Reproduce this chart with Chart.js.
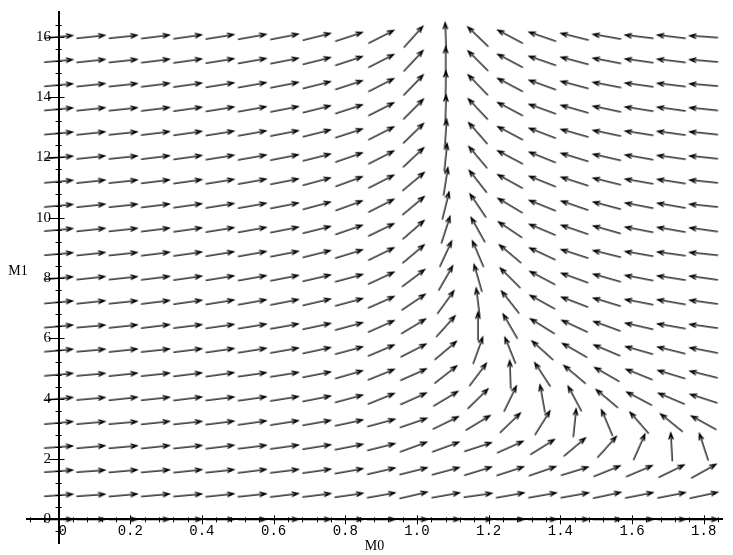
<!DOCTYPE html>
<html>
<head>
<meta charset="utf-8">
<title>M0 / M1 direction field</title>
<script src="https://cdn.jsdelivr.net/npm/chart.js@4.4.0/dist/chart.umd.min.js"></script>
<style>
	body { margin: 0; background: #fff; }
	#wrap { width: 733px; height: 555px; }
</style>
</head>
<body>
<div id="wrap"><canvas id="field"></canvas></div>
<script>

// grid points of the field
const m0Grid = [0, 0.09, 0.18, 0.27, 0.36, 0.45, 0.54, 0.63, 0.72, 0.81, 0.9, 0.99, 1.08, 1.17, 1.26, 1.35, 1.44, 1.53, 1.62, 1.71, 1.8];
const m1Grid = [0, 0.8, 1.6, 2.4, 3.2, 4, 4.8, 5.6, 6.4, 7.2, 8, 8.8, 9.6, 10.4, 11.2, 12, 12.8, 13.6, 14.4, 15.2, 16];

// arrow direction (degrees, counter-clockwise from +M0), one row per M1 value, bottom row first
const angles = [
	[0, 0, 0, 0, 0, 0, 0, 0, 0, 0, 0, 0, 0, 0, 0, 0, 0, 0, 0, 0, 0],
	[4, 4, 5, 5, 5, 6, 6, 7, 7, 8, 10, 13, 10, 8, 10, 10, 10, 12, 11, 11, 12],
	[4, 4, 5, 5, 6, 6, 7, 7, 8, 10, 13, 14, 15, 17, 18, 19, 17, 22, 23, 26, 29],
	[4, 5, 5, 6, 6, 7, 7, 8, 9, 11, 14, 20, 20, 18, 24, 32, 40, 48, 66, 93, 108],
	[5, 5, 5, 6, 6, 7, 8, 9, 10, 12, 15, 19, 26, 31, 44, 58, 84, 113, 131, 141, 151],
	[5, 5, 6, 6, 7, 7, 8, 9, 11, 15, 22, 24, 31, 44, 64, 100, 118, 140, 152, 157, 162],
	[5, 5, 6, 6, 7, 8, 8, 9, 11, 16, 22, 24, 38, 53, 92, 123, 140, 150, 158, 163, 166],
	[5, 5, 6, 6, 7, 8, 9, 10, 12, 15, 23, 27, 40, 70, 112, 138, 150, 157, 164, 166, 169],
	[5, 5, 6, 7, 7, 8, 9, 10, 12, 15, 24, 31, 48, 90, 120, 148, 155, 160, 167, 170, 172],
	[5, 6, 6, 7, 8, 9, 10, 11, 13, 15, 24, 34, 54, 97, 128, 151, 159, 163, 169, 170, 172],
	[5, 6, 6, 7, 8, 9, 10, 11, 13, 15, 25, 37, 60, 106, 135, 152, 160, 164, 169, 171, 172],
	[5, 6, 6, 7, 8, 9, 10, 11, 14, 17, 26, 40, 65, 113, 140, 155, 162, 166, 170, 172, 174],
	[5, 6, 6, 7, 8, 9, 10, 11, 14, 19, 26, 41, 72, 119, 146, 157, 161, 164, 169, 170, 172],
	[5, 6, 6, 7, 8, 9, 10, 11, 15, 20, 27, 40, 76, 124, 149, 158, 161, 165, 169, 170, 174],
	[5, 6, 6, 7, 8, 9, 10, 11, 15, 20, 27, 40, 81, 128, 151, 158, 162, 166, 170, 171, 174],
	[5, 6, 6, 7, 8, 9, 10, 11, 14, 19, 27, 43, 84, 130, 152, 158, 163, 167, 170, 172, 174],
	[5, 6, 6, 7, 8, 9, 10, 11, 14, 18, 27, 44, 86, 131, 152, 159, 164, 168, 171, 172, 174],
	[5, 6, 6, 7, 8, 9, 10, 11, 14, 18, 27, 45, 88, 133, 152, 160, 164, 168, 171, 172, 174],
	[5, 6, 6, 7, 8, 9, 10, 11, 14, 18, 27, 46, 89, 134, 152, 160, 165, 169, 172, 173, 175],
	[5, 6, 6, 7, 8, 9, 10, 11, 14, 18, 27, 47, 90, 135, 152, 161, 165, 169, 172, 173, 175],
	[5, 6, 6, 7, 8, 9, 10, 11, 14, 18, 27, 48, 92, 136, 152, 161, 166, 170, 173, 173, 176]
];

// axis labels
const xTicks = [0, 0.2, 0.4, 0.6, 0.8, 1, 1.2, 1.4, 1.6, 1.8];
const yTicks = [0, 2, 4, 6, 8, 10, 12, 14, 16];
const xTitle = "M0";
const yTitle = "M1";

// points for the chart
let arrows = [];
for (let r = 0; r < m1Grid.length; r++) {
	for (let c = 0; c < m0Grid.length; c++) {
		arrows.push({ x: m0Grid[c], y: m1Grid[r], a: angles[r][c] });
	}
}

// arrow picture, pointing right, used as point style
function makeArrow(len) {
	let cv = document.createElement('canvas');
	cv.width = len + 4;
	cv.height = 12;
	let g = cv.getContext('2d');
	g.strokeStyle = '#000';
	g.lineWidth = 1.25;
	g.lineCap = 'round';
	g.beginPath();
	g.moveTo(2, 6);
	g.lineTo(len + 2, 6);
	g.moveTo(len - 4, 3.8);
	g.lineTo(len + 2, 6);
	g.lineTo(len - 4, 8.2);
	g.stroke();
	return cv;
}
const arrowPic = makeArrow(28);

// ticks crossing the axes + axis titles
const axisExtras = {
	id: 'axisExtras',
	afterDraw(chart) {
		const ctx = chart.ctx;
		const xs = chart.scales.x;
		const ys = chart.scales.y;
		const x0 = xs.getPixelForValue(0);
		const y0 = ys.getPixelForValue(0);
		ctx.save();
		ctx.strokeStyle = '#000';
		ctx.lineWidth = 1;
		ctx.beginPath();
		for (let k = -2; k <= 46; k++) {
			let px = Math.round(xs.getPixelForValue(k * 0.04)) + 0.5;
			let major = k >= 0 && k % 5 == 0;
			ctx.moveTo(px, y0 - (major ? 4 : 2));
			ctx.lineTo(px, y0 + (major ? 5 : 3));
		}
		for (let k = -1; k <= 41; k++) {
			let py = Math.round(ys.getPixelForValue(k * 0.4)) + 0.5;
			let major = k >= 0 && k % 5 == 0;
			ctx.moveTo(x0 - (major ? 10 : 3), py);
			ctx.lineTo(x0 + (major ? 6 : 3), py);
		}
		ctx.stroke();
		ctx.fillStyle = '#000';
		ctx.font = '14px "Liberation Serif"';
		ctx.textAlign = 'center';
		ctx.textBaseline = 'middle';
		ctx.fillText(xTitle, (xs.left + xs.right) / 2, y0 + 27);
		ctx.fillText(yTitle, 18, (ys.top + ys.bottom) / 2 - 6);
		ctx.restore();
	}
};

var chart = new Chart(document.getElementById('field').getContext('2d'), {
	type: 'scatter',
	data: {
		datasets: [{
			data: arrows,
			pointStyle: arrowPic,
			pointRadius: 5,
			pointRotation: (c) => -c.raw.a,
			clip: false
		}]
	},
	options: {
		responsive: true,
		maintainAspectRatio: false,
		animation: false,
		events: [],
		layout: { padding: { left: 27, right: 11, top: 5, bottom: 12 } },
		plugins: {
			legend: { display: false },
			tooltip: { enabled: false }
		},
		scales: {
			x: {
				type: 'linear',
				min: -0.088,
				max: 1.851,
				position: { y: 0 },
				border: { display: true, color: '#000', width: 2, z: 1 },
				grid: { display: true, drawOnChartArea: false, drawTicks: false },
				afterBuildTicks: (axis) => { axis.ticks = xTicks.map(v => ({ value: v })) },
				ticks: {
					autoSkip: false,
					maxRotation: 0,
					padding: 4,
					color: '#000',
					font: { family: 'Liberation Mono', size: 14 },
					// the zero sits just right of the vertical axis
					callback: (v) => v == 0 ? ' 0' : v.toFixed(1)
				}
			},
			y: {
				type: 'linear',
				min: -0.785,
				max: 16.82,
				position: { x: 0 },
				border: { display: true, color: '#000', width: 2, z: 1 },
				grid: { display: true, drawOnChartArea: false, drawTicks: false },
				afterBuildTicks: (axis) => { axis.ticks = yTicks.map(v => ({ value: v })) },
				ticks: {
					autoSkip: false,
					color: '#000',
					font: { family: 'Liberation Serif', size: 15 },
					// label sits a little left of the axis line
					callback: (v) => v + '\u2002'
				}
			}
		}
	},
	plugins: [axisExtras]
});
</script>
</body>
</html>
